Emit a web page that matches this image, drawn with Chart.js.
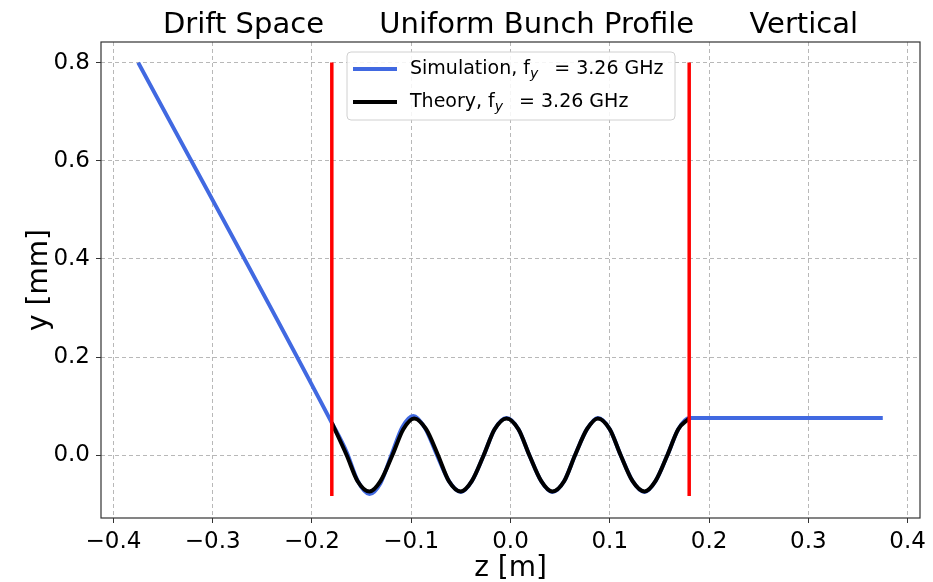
<!DOCTYPE html>
<html>
<head>
<meta charset="utf-8">
<script src="https://cdn.jsdelivr.net/npm/chart.js@4"></script>
<style>
  body { margin: 0; background: #fff; }
</style>
</head>
<body>
<canvas id="chart" width="933" height="582"></canvas>
<script>
// tick labels
const xTicks = [-0.4, -0.3, -0.2, -0.1, 0.0, 0.1, 0.2, 0.3, 0.4];
const yTicks = [0.0, 0.2, 0.4, 0.6, 0.8];

// simulation (blue)
const simZ = [-0.375, -0.18, -0.165, -0.154, -0.142, -0.131, -0.120, -0.109, -0.098, -0.086, -0.074,
  -0.062, -0.050, -0.039, -0.027, -0.016, -0.004, 0.008, 0.019, 0.031, 0.042, 0.054, 0.065,
  0.077, 0.088, 0.100, 0.111, 0.123, 0.135, 0.146, 0.158, 0.169, 0.180, 0.375];
const simY = [0.800, 0.066, 0.006, -0.052, -0.079, -0.057, 0.000, 0.057, 0.080, 0.055, 0.000,
  -0.053, -0.075, -0.053, 0.000, 0.053, 0.076, 0.053, 0.000, -0.053, -0.075, -0.053, 0.000,
  0.053, 0.076, 0.053, 0.000, -0.053, -0.075, -0.053, 0.000, 0.053, 0.076, 0.076];

// theory (black)
const theoryZ = [-0.180, -0.165, -0.154, -0.142, -0.131, -0.119, -0.108, -0.097, -0.085, -0.073,
  -0.062, -0.050, -0.039, -0.027, -0.016, -0.004, 0.008, 0.019, 0.031, 0.042, 0.054, 0.065,
  0.077, 0.088, 0.100, 0.111, 0.123, 0.135, 0.146, 0.158, 0.169, 0.180];
const theoryY = [0.066, 0.000, -0.053, -0.074, -0.053, 0.000, 0.053, 0.075, 0.053, 0.000,
  -0.053, -0.074, -0.053, 0.000, 0.053, 0.075, 0.053, 0.000, -0.053, -0.074, -0.053, 0.000,
  0.053, 0.075, 0.053, 0.000, -0.053, -0.074, -0.053, 0.000, 0.053, 0.075];

// red boundary markers
const boundaryZ = [-0.18, 0.18];
const boundaryY = [-0.083, 0.8];

const xMin = -0.4125, xMax = 0.4125;
const yMin = -0.128, yMax = 0.842;

const titleText = 'Drift Space      Uniform Bunch Profile      Vertical';
const legendItems = [
  { label: 'Simulation, f', color: '#4169e1' },
  { label: 'Theory, f', color: '#000000' }
];
const legendValue = '= 3.26 GHz';

const FONT = '"DejaVu Sans", sans-serif';

function toPoints(xs, ys) {
  return xs.map((x, i) => ({ x: x, y: ys[i] }));
}

function fmt(v) {
  return v.toFixed(1).replace('-', '\u2212');
}

const datasets = boundaryZ.map(z => ({
  data: toPoints([z, z], boundaryY),
  borderColor: '#ff0000',
  borderWidth: 3.5,
  order: 0
}));
datasets.push({
  data: toPoints(theoryZ, theoryY),
  borderColor: '#000000',
  borderWidth: 4,
  cubicInterpolationMode: 'monotone',
  order: 1
});
datasets.push({
  data: toPoints(simZ, simY),
  borderColor: '#4169e1',
  borderWidth: 4,
  cubicInterpolationMode: 'monotone',
  order: 2
});
datasets.forEach(d => {
  d.showLine = true;
  d.pointRadius = 0;
  d.fill = false;
  d.borderCapStyle = 'butt';
});

// title, axis labels, frame and legend
const decor = {
  id: 'decor',
  afterDraw(chart) {
    const ctx = chart.ctx;
    const a = chart.chartArea;
    ctx.save();

    ctx.strokeStyle = '#333';
    ctx.lineWidth = 1.2;
    ctx.strokeRect(a.left, a.top, a.right - a.left, a.bottom - a.top);

    ctx.fillStyle = '#000';
    ctx.textAlign = 'center';
    ctx.textBaseline = 'alphabetic';
    ctx.font = '29px ' + FONT;
    ctx.fillText(titleText, (a.left + a.right) / 2, 33);

    ctx.font = '28px ' + FONT;
    ctx.fillText('z [m]', (a.left + a.right) / 2, 576);
    ctx.save();
    ctx.translate(47, (a.top + a.bottom) / 2);
    ctx.rotate(-Math.PI / 2);
    ctx.fillText('y [mm]', 0, 0);
    ctx.restore();

    // legend box
    const bx = a.left + 246, by = a.top + 10, bw = 328, bh = 68;
    ctx.beginPath();
    ctx.roundRect(bx, by, bw, bh, 4);
    ctx.fillStyle = 'rgba(255,255,255,0.85)';
    ctx.fill();
    ctx.strokeStyle = '#d0d0d0';
    ctx.lineWidth = 1;
    ctx.stroke();

    ctx.textAlign = 'left';
    ctx.textBaseline = 'middle';
    legendItems.forEach((item, i) => {
      const cy = by + 17 + i * 33;
      ctx.strokeStyle = item.color;
      ctx.lineWidth = 4;
      ctx.beginPath();
      ctx.moveTo(bx + 6, cy);
      ctx.lineTo(bx + 50, cy);
      ctx.stroke();

      let tx = bx + 63;
      ctx.fillStyle = '#000';
      ctx.font = '19px ' + FONT;
      ctx.fillText(item.label, tx, cy);
      tx += ctx.measureText(item.label).width;
      ctx.font = 'italic 14px ' + FONT;
      ctx.fillText('y', tx, cy + 5);
      tx += ctx.measureText('y').width + 16;
      ctx.font = '19px ' + FONT;
      ctx.fillText(legendValue, tx, cy);
    });

    ctx.restore();
  }
};

const gridOpts = {
  color: '#b8b8b8',
  lineWidth: 1,
  tickColor: '#333',
  tickLength: 5,
  tickBorderDash: []
};

new Chart(document.getElementById('chart'), {
  type: 'scatter',
  data: { datasets: datasets },
  options: {
    responsive: false,
    animation: false,
    layout: { padding: { top: 42, right: 13, left: 0, bottom: 0 } },
    plugins: {
      legend: { display: false },
      title: { display: false },
      tooltip: { enabled: false }
    },
    scales: {
      x: {
        type: 'linear',
        min: xMin,
        max: xMax,
        afterFit: s => { s.height = 64; },
        afterBuildTicks: s => { s.ticks = xTicks.map(v => ({ value: v })); },
        grid: gridOpts,
        border: { display: false, dash: [4, 3] },
        ticks: {
          color: '#000',
          padding: 5,
          maxRotation: 0,
          font: { family: FONT, size: 23 },
          callback: v => fmt(v)
        }
      },
      y: {
        type: 'linear',
        min: yMin,
        max: yMax,
        afterFit: s => { s.width = 101; },
        afterBuildTicks: s => { s.ticks = yTicks.map(v => ({ value: v })); },
        grid: gridOpts,
        border: { display: false, dash: [4, 3] },
        ticks: {
          color: '#000',
          padding: 6,
          font: { family: FONT, size: 23 },
          callback: v => fmt(v)
        }
      }
    }
  },
  plugins: [decor]
});
</script>
</body>
</html>
